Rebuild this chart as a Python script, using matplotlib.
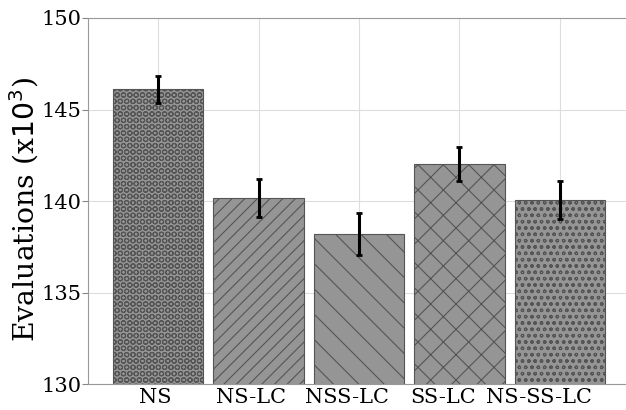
import matplotlib
matplotlib.use("Agg")
from matplotlib import pyplot as plt

categories = ["NS", "NS-LC", "NSS-LC", "SS-LC", "NS-SS-LC"]
evaluations = [146.1, 140.15, 138.2, 142.0, 140.05]
errors = [0.72, 1.05, 1.15, 0.93, 1.03]
hatches = ["OO", "//", "\\", "x", "oo"]

# figure was drawn at a lower dpi, so hatch patterns are a bit denser
DPI = 76
S = 100.0 / DPI  # point sizes written as if at 100 dpi

plt.rcParams["font.family"] = ["DejaVu Serif"]
plt.rcParams["hatch.color"] = "#333333"
plt.rcParams["hatch.linewidth"] = 0.8 * S

fig = plt.figure(figsize=(626 / DPI, 410 / DPI), dpi=DPI)
ax = fig.add_axes([0.1406, 0.0634, 0.8594, 0.8927])

x = list(range(len(categories)))
bars = ax.bar(x, evaluations, width=0.9, color="#959595", edgecolor="#555555",
              linewidth=0.8 * S, zorder=2)
for b, h in zip(bars, hatches):
    b.set_hatch(h)
ax.errorbar(x, evaluations, yerr=errors, fmt="none", ecolor="black",
            elinewidth=2.2 * S, capsize=2.2 * S, capthick=2 * S, zorder=3)

ax.set_ylim(130, 150)
ax.set_xlim(-0.7, 4.66)
ax.set_yticks([130, 135, 140, 145, 150])
# major ticks carry the grid, labels sit on minor ticks (slightly drifted left)
ax.set_xticks(x)
ax.set_xticklabels([""] * len(x))
ax.set_xticks([i * 0.955 - 0.03 for i in x], minor=True)
ax.set_xticklabels(categories, minor=True)
ax.tick_params(axis="both", which="both", labelsize=15 * S, length=4 * S,
               width=0.8 * S, color="#888888", pad=1 * S)
ax.tick_params(axis="x", which="both", length=0, pad=3 * S)
ax.set_ylabel(r"Evaluations (x$10^3$)", fontsize=20.4 * S)
ax.yaxis.set_label_coords(-0.088, 0.478)
ax.grid(True, which="major", color="#dddddd", linewidth=0.8 * S, zorder=0)
ax.set_axisbelow(True)
ax.spines["right"].set_visible(False)
for s in ["left", "top", "bottom"]:
    ax.spines[s].set_color("#999999")
    ax.spines[s].set_linewidth(0.8 * S)

plt.savefig("out.png", dpi=DPI)
